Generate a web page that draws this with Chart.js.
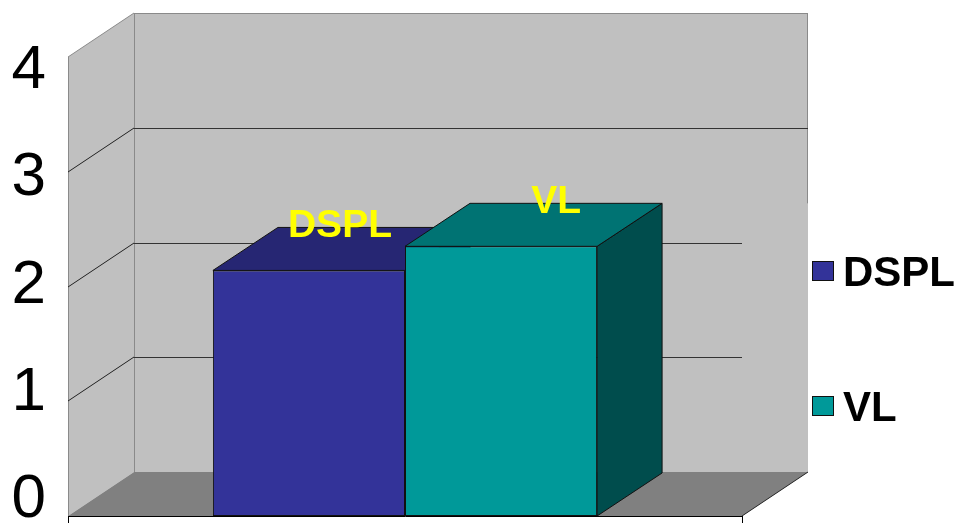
<!DOCTYPE html>
<html>
<head>
<meta charset="utf-8">
<script src="https://cdn.jsdelivr.net/npm/chart.js@4.4.1/dist/chart.umd.min.js"></script>
<style>
  html, body { margin: 0; padding: 0; background: #fff; }
</style>
</head>
<body>
<canvas id="chart" width="960" height="531"></canvas>
<script>
const categories = [''];
const seriesNames = ['DSPL', 'VL'];
const dsplValues = [2.14];
const vlValues = [2.35];
const yTickValues = [0, 1, 2, 3, 4];
const yTickLabels = ['0', '1', '2', '3', '4'];

const FONT = '"Liberation Sans", Arial, sans-serif';

// offset of the back wall, and of the back face of each bar
const DEPTH = { dx: 66, dy: -44 };
const BAR_DEPTH = { dx: 65, dy: -43 };

function poly(ctx, pts, fill, stroke) {
  ctx.beginPath();
  ctx.moveTo(pts[0][0], pts[0][1]);
  for (let i = 1; i < pts.length; i++) ctx.lineTo(pts[i][0], pts[i][1]);
  ctx.closePath();
  if (fill) { ctx.fillStyle = fill; ctx.fill(); }
  if (stroke) { ctx.strokeStyle = stroke; ctx.lineWidth = 1; ctx.stroke(); }
}

function line(ctx, x1, y1, x2, y2, color) {
  ctx.beginPath();
  ctx.moveTo(x1, y1);
  ctx.lineTo(x2, y2);
  ctx.strokeStyle = color;
  ctx.lineWidth = 1;
  ctx.stroke();
}

function barRects(chart) {
  const out = [];
  chart.data.datasets.forEach((ds, i) => {
    chart.getDatasetMeta(i).data.forEach(el => {
      const p = el.getProps(['x', 'y', 'base', 'width'], true);
      out.push({ ds, l: p.x - p.width / 2, r: p.x + p.width / 2, t: p.y, b: p.base, x: p.x });
    });
  });
  return out;
}

// walls, floor, gridlines and the top/side faces of the bars
const box3d = {
  id: 'box3d',
  beforeDatasetsDraw(chart) {
    const { ctx, chartArea: a, scales: { y } } = chart;
    const L = a.left, R = a.right, T = a.top, B = a.bottom;
    const bx = DEPTH.dx, by = DEPTH.dy;
    const bars = barRects(chart);
    const tallestBack = Math.min(...bars.map(b => b.t + BAR_DEPTH.dy));

    ctx.save();
    poly(ctx, [[L + bx, T + by], [R + bx, T + by], [R + bx, B + by], [L + bx, B + by]], '#c0c0c0');
    poly(ctx, [[L, T], [L + bx, T + by], [L + bx, B + by], [L, B]], '#c0c0c0');
    poly(ctx, [[L, B], [R, B], [R + bx, B + by], [L + bx, B + by]], '#808080');

    // wall edges
    line(ctx, L + 0.5, T, L + 0.5, B, '#8a8a8a');
    line(ctx, L, T, L + bx, T + by, '#8a8a8a');
    line(ctx, L + bx, T + by + 0.5, R + bx, T + by + 0.5, '#8a8a8a');
    line(ctx, L + bx + 0.5, T + by, L + bx + 0.5, B + by, '#8a8a8a');
    line(ctx, R + bx - 0.5, T + by, R + bx - 0.5, tallestBack, '#8a8a8a');
    line(ctx, R, B, R + bx, B + by, '#222');

    // gridlines on the side and back walls
    yTickValues.slice(1, -1).forEach(v => {
      const yf = Math.round(y.getPixelForValue(v));
      const yb = yf + by;
      line(ctx, L, yf, L + bx, yb, '#222');
      const end = yb < tallestBack ? R + bx : R;
      line(ctx, L + bx, yb + 0.5, end, yb + 0.5, '#333');
    });

    // top and side faces, left bar first so the next bar covers its side
    const dx = BAR_DEPTH.dx, dy = BAR_DEPTH.dy;
    bars.forEach(b => {
      poly(ctx, [[b.r, b.t], [b.r + dx, b.t + dy], [b.r + dx, b.b + dy], [b.r, b.b]], b.ds.sideColor, '#111');
      poly(ctx, [[b.l, b.t], [b.r, b.t], [b.r + dx, b.t + dy], [b.l + dx, b.t + dy]], b.ds.topColor, '#111');
    });
    ctx.restore();
  },
  afterDatasetsDraw(chart) {
    const { ctx } = chart;
    ctx.save();
    ctx.font = 'bold 39px ' + FONT;
    ctx.fillStyle = '#ffff00';
    ctx.textAlign = 'center';
    ctx.textBaseline = 'alphabetic';
    barRects(chart).forEach(b => {
      ctx.fillText(b.ds.label, b.x + b.ds.labelDx, b.t - 33);
    });
    ctx.restore();
  },
  afterDraw(chart) {
    // legend to the right of the box
    const { ctx, chartArea: a } = chart;
    ctx.save();
    ctx.font = 'bold 42px ' + FONT;
    ctx.textAlign = 'left';
    ctx.textBaseline = 'alphabetic';
    chart.data.datasets.forEach((ds, i) => {
      const cy = 271 + i * 135;
      const x = a.right + 70;
      ctx.fillStyle = ds.backgroundColor;
      ctx.fillRect(x, cy - 10, 22, 20);
      ctx.strokeStyle = '#111';
      ctx.lineWidth = 1;
      ctx.strokeRect(x + 0.5, cy - 9.5, 21, 19);
      ctx.fillStyle = '#000';
      ctx.fillText(ds.label, x + 31, cy + 15);
    });
    ctx.restore();
  }
};

new Chart(document.getElementById('chart'), {
  type: 'bar',
  data: {
    labels: categories,
    datasets: [
      {
        label: seriesNames[0],
        data: dsplValues,
        backgroundColor: '#333399',
        topColor: '#262673',
        sideColor: '#1a1a4d',
        labelDx: 31,
        borderColor: '#111',
        borderWidth: 1,
        borderSkipped: false,
        yAxisID: 'y'
      },
      {
        label: seriesNames[1],
        data: vlValues,
        backgroundColor: '#009999',
        topColor: '#007373',
        sideColor: '#004d4d',
        labelDx: 55,
        borderColor: '#111',
        borderWidth: 1,
        borderSkipped: false,
        yAxisID: 'y'
      }
    ]
  },
  options: {
    responsive: false,
    animation: false,
    devicePixelRatio: 1,
    categoryPercentage: 0.57,
    barPercentage: 1,
    layout: { padding: { top: 57, right: 218, bottom: 0, left: 0 } },
    plugins: {
      legend: { display: false },
      tooltip: { enabled: false }
    },
    scales: {
      x: {
        type: 'category',
        offset: true,
        grid: { display: true, offset: true, drawOnChartArea: false, drawTicks: true, tickLength: 7, color: '#000' },
        border: { display: true, color: '#000', width: 1 },
        ticks: { display: false },
        afterFit(s) { s.height = 15; s.paddingLeft = 0; s.paddingRight = 0; }
      },
      y: {
        type: 'linear',
        display: false,
        min: 0,
        max: 4
      },
      // tick labels sit on their own scale, slightly off the gridlines
      yl: {
        type: 'linear',
        position: 'left',
        min: -0.15,
        max: 4.13,
        grid: { display: false, drawTicks: false },
        border: { display: false },
        ticks: {
          padding: 22,
          color: '#000',
          font: { family: FONT, size: 62 },
          callback: (v) => yTickLabels[yTickValues.indexOf(v)]
        },
        afterBuildTicks(s) { s.ticks = yTickValues.map(v => ({ value: v })); },
        afterFit(s) { s.width = 68; s.paddingTop = 0; s.paddingBottom = 0; }
      }
    }
  },
  plugins: [box3d]
});
</script>
</body>
</html>
